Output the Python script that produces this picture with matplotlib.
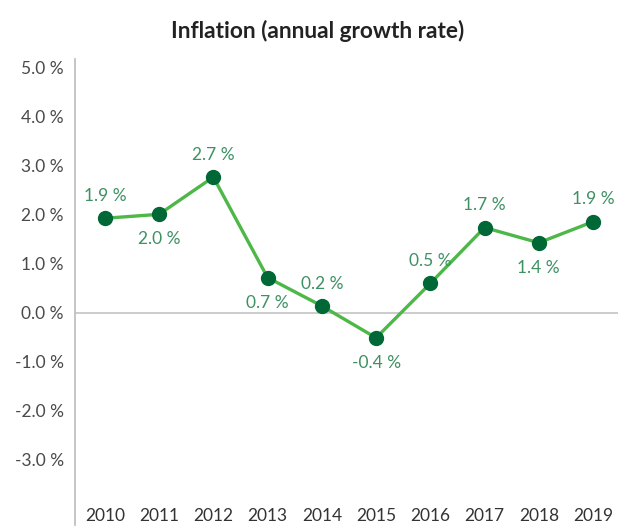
import matplotlib
matplotlib.use("Agg")
import matplotlib.pyplot as plt

years = ["2010", "2011", "2012", "2013", "2014", "2015", "2016", "2017", "2018", "2019"]
values = [1.93, 2.01, 2.77, 0.72, 0.14, -0.51, 0.60, 1.74, 1.43, 1.86]
labels = ["1.9 %", "2.0 %", "2.7 %", "0.7 %", "0.2 %", "-0.4 %", "0.5 %", "1.7 %", "1.4 %", "1.9 %"]
label_side = ["up", "down", "up", "down", "up", "down", "up", "up", "down", "up"]
yticks = [-3, -2, -1, 0, 1, 2, 3, 4, 5]

plt.rcParams['font.family'] = ['Lato', 'DejaVu Sans']

fig = plt.figure(figsize=(6.32, 5.28), dpi=100)
ax = fig.add_axes([75/632, 3/528, (618-75)/632, (525-59)/528])

x = list(range(len(years)))
ax.axhline(0, color="#cccccc", lw=1.4, zorder=1)
ax.plot(x, values, color="#4db848", lw=2.4, zorder=2)
ax.plot(x, values, 'o', color="#006837", ms=10, zorder=3)

for xi, v, lab, side in zip(x, values, labels, label_side):
    dy = 16 if side == "up" else -18
    ax.annotate(lab, (xi, v), xytext=(0, dy), textcoords="offset points",
                ha="center", va="center", fontsize=12.5, color="#3d9163")

ax.set_xlim(-0.55, 9.46)
ax.set_ylim(-4.33, 5.18)
ax.set_yticks(yticks)
ax.set_yticklabels([f"{t:.1f} %" for t in yticks], fontsize=12.5, color="#4a4a4a")
ax.set_xticks(x)
ax.set_xticklabels(years, fontsize=12.5, color="#333333")
ax.tick_params(axis="y", length=0, pad=8)
ax.tick_params(axis="x", length=0, pad=-12)

for s in ["top", "right", "bottom"]:
    ax.spines[s].set_visible(False)
ax.spines["left"].set_color("#bbbbbb")
ax.spines["left"].set_linewidth(1.2)

fig.text(318/632, 1 - 38/528, "Inflation (annual growth rate)", ha="center", va="baseline",
         fontsize=16.3, fontweight="bold", color="#222222")

fig.savefig("out.png", dpi=100)
